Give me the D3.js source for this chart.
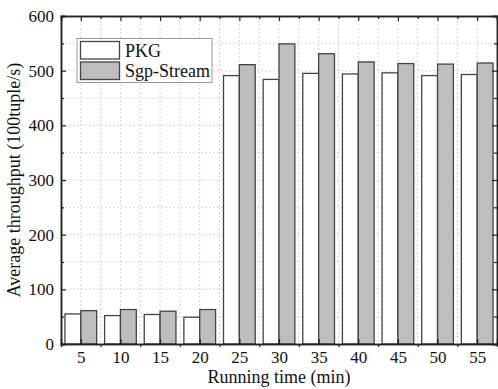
<!DOCTYPE html>
<html><head><meta charset="utf-8">
<script src="https://cdn.jsdelivr.net/npm/d3@7"></script>
<style>body{margin:0;background:#fff}svg{display:block}text{font-family:"Liberation Serif","Times New Roman",serif;fill:#111}</style>
</head><body><svg id="c" width="498" height="389"></svg>
<script>
const categories = [5,10,15,20,25,30,35,40,45,50,55];
const pkg = [55,52,54,49,491,484,495,494,496,491,493];
const sgp = [61,63,60,63,511,549,531,516,513,512,514];
const seriesNames = ["PKG","Sgp-Stream"];
const yTicks = [0,100,200,300,400,500,600];

const svg = d3.select("#c");
const L=61,R=497,T=16,B=344;
const x = d3.scaleLinear().domain([2.5,57.5]).range([L,R]);
const y = d3.scaleLinear().domain([0,600]).range([B,T]);
const step = x(10)-x(5);
const bw = step*0.4;

// grid
const g = svg.append("g");
const xGrid = d3.range(5,57.5,2.5);
g.selectAll(".vg").data(xGrid).join("line")
 .attr("x1",d=>x(d)).attr("x2",d=>x(d)).attr("y1",T).attr("y2",B)
 .attr("stroke","#ccc").attr("stroke-width",0.8).attr("stroke-dasharray","2,2");
g.selectAll(".hg").data(d3.range(50,600,50)).join("line")
 .attr("x1",L).attr("x2",R).attr("y1",d=>y(d)).attr("y2",d=>y(d))
 .attr("stroke","#ccc").attr("stroke-width",0.8).attr("stroke-dasharray","2,2");

// bars
const bars = svg.append("g");
bars.selectAll(".p").data(categories).join("rect")
 .attr("x",d=>x(d)-bw).attr("width",bw)
 .attr("y",(d,i)=>y(pkg[i])).attr("height",(d,i)=>B-y(pkg[i]))
 .attr("fill","#fff").attr("stroke","#444").attr("stroke-width",1.3);
bars.selectAll(".s").data(categories).join("rect")
 .attr("x",d=>x(d)).attr("width",bw)
 .attr("y",(d,i)=>y(sgp[i])).attr("height",(d,i)=>B-y(sgp[i]))
 .attr("fill","#bebebe").attr("stroke","#444").attr("stroke-width",1.3);

// axes
const fs = "18px";
const ax = svg.append("g");
ax.append("g").attr("transform",`translate(0,${B})`)
 .call(d3.axisBottom(x).tickValues(categories).tickSize(-5).tickPadding(7).tickFormat(d3.format("d")));
ax.append("g").attr("transform",`translate(${L},0)`)
 .call(d3.axisLeft(y).tickValues(yTicks).tickSize(-5).tickPadding(7));
ax.append("g").attr("transform",`translate(0,${T})`)
 .call(d3.axisTop(x).tickValues(categories).tickSize(-5).tickFormat(""));
ax.append("g").attr("transform",`translate(${R},0)`)
 .call(d3.axisRight(y).tickValues(yTicks).tickSize(-5).tickFormat(""));
// minor ticks
const mids = d3.range(7.5,55,5);
ax.append("g").attr("transform",`translate(0,${B})`).call(d3.axisBottom(x).tickValues(mids).tickSize(3).tickFormat(""));
ax.append("g").attr("transform",`translate(0,${T})`).call(d3.axisTop(x).tickValues(mids).tickSize(-3).tickFormat(""));
ax.append("g").attr("transform",`translate(${L},0)`).call(d3.axisLeft(y).tickValues(d3.range(50,600,100)).tickSize(-3).tickFormat(""));
ax.append("g").attr("transform",`translate(${R},0)`).call(d3.axisRight(y).tickValues(d3.range(50,600,100)).tickSize(-3).tickFormat(""));
ax.selectAll(".domain").attr("stroke","#222").attr("stroke-width",1.5);
ax.selectAll(".tick line").attr("stroke","#222").attr("stroke-width",1.2);
ax.selectAll(".tick text").style("font-family",'"Liberation Serif",serif').style("font-size","17px").attr("fill","#111");

// axis titles
svg.append("text").attr("x",(L+R)/2).attr("y",383).attr("text-anchor","middle")
 .style("font-size",fs).text("Running time (min)");
svg.append("text").attr("transform",`translate(20,${(T+B)/2}) rotate(-90)`).attr("text-anchor","middle")
 .style("font-size",fs).text("Average throughput (100tuple/s)");

// legend
const lg = svg.append("g");
lg.append("rect").attr("x",77).attr("y",38.5).attr("width",135).attr("height",44)
 .attr("fill","#fff").attr("stroke","#999").attr("stroke-width",1);
const fills = ["#fff","#bebebe"];
seriesNames.forEach((n,i)=>{
  lg.append("rect").attr("x",80.5).attr("y",41.5+i*20.5).attr("width",39).attr("height",17.5)
   .attr("fill",fills[i]).attr("stroke","#444").attr("stroke-width",1.3);
  lg.append("text").attr("x",125).attr("y",56.5+i*20.5).style("font-size",fs).text(n);
});
</script></body></html>
